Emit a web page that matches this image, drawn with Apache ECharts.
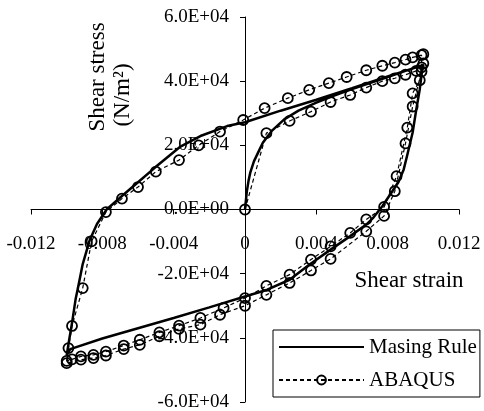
<!DOCTYPE html>
<html>
<head>
    <meta charset="utf-8">
    <title>Shear stress - strain</title>
    <script src="https://cdn.jsdelivr.net/npm/echarts@6/dist/echarts.min.js"></script>
    <style>
        html, body { margin: 0; padding: 0; background: #fff; }
        #chart { width: 484px; height: 411px; }
    </style>
</head>
<body>
<div id="chart"></div>
<script type="text/javascript">
    // 读图得到的数据 [shear strain, shear stress (N/m2)]
    var masingRule = [
        [0, 0], [0.0001, 5500], [0.0002, 9000], [0.0003, 11600], [0.0005, 15000], [0.0008, 18500],
        [0.001, 20800], [0.0015, 24500], [0.0022, 28100], [0.003, 30800], [0.004, 33300], [0.005, 35500],
        [0.006, 37500], [0.007, 39400], [0.008, 41300], [0.009, 43200], [0.01, 45000],
        // 卸载
        [0.0099, 42000], [0.0098, 37500], [0.0096, 31000], [0.0094, 24000], [0.0091, 17000], [0.0089, 12500],
        [0.0086, 8500], [0.0083, 6000], [0.008, 3500], [0.0077, 1000], [0.0072, -2500], [0.0068, -4700],
        [0.0059, -8300], [0.0048, -12500], [0.0036, -17200], [0.0025, -21900], [0.00125, -25000], [0, -27100],
        [-0.002, -30500], [-0.004, -33800], [-0.006, -37000], [-0.008, -40200], [-0.0098, -43500], [-0.01, -45500],
        // 再加载
        [-0.0099, -42000], [-0.0097, -35400], [-0.0095, -28000], [-0.00935, -24000], [-0.0091, -17000],
        [-0.0087, -9400], [-0.0083, -4500], [-0.00776, 0], [-0.0069, 4200], [-0.006, 8500], [-0.005, 13300],
        [-0.00365, 19500], [-0.0025, 22900], [-0.001, 26000], [0, 27200], [0.002, 30800], [0.004, 34200],
        [0.006, 37800], [0.008, 41500], [0.01, 45000]
    ];
    var abaqus = [
        [0, 0], [0.0012, 23800], [0.0025, 27600], [0.0037, 30500], [0.0048, 33500], [0.0059, 35700],
        [0.0068, 38000], [0.0077, 40000], [0.0084, 40900], [0.009, 42000], [0.0096, 43200], [0.0099, 44300],
        [0.01, 45500],
        // 第一次卸载
        [0.0098, 40300], [0.0094, 36200], [0.0091, 25500], [0.0085, 10400], [0.0078, 800], [0.0068, -3100],
        [0.0059, -7300], [0.0048, -11500], [0.0037, -15600], [0.0025, -20300], [0.0012, -23800], [0, -27600],
        [-0.0012, -30700], [-0.0025, -33800], [-0.0037, -36200], [-0.0048, -38300], [-0.0059, -40600],
        [-0.0068, -42400], [-0.0078, -44300], [-0.0085, -45300], [-0.0092, -45800], [-0.0097, -46700],
        [-0.01, -47200],
        // 再加载
        [-0.0099, -43200], [-0.0097, -36300], [-0.0091, -24500], [-0.0086, -9900], [-0.0078, -800],
        [-0.0069, 3400], [-0.006, 7000], [-0.005, 11800], [-0.0037, 15400], [-0.0026, 20000], [-0.0014, 24300],
        [-0.0001, 27900], [0.0011, 31600], [0.0024, 34700], [0.0036, 37300], [0.0047, 39400], [0.0057, 41300],
        [0.0068, 43400], [0.0077, 44800], [0.0084, 45800], [0.009, 46700], [0.0094, 47400], [0.0099, 48100],
        [0.01, 48400],
        // 第二次卸载
        [0.0099, 43000], [0.0094, 32100], [0.009, 20600], [0.0084, 5700], [0.0078, -2000], [0.0068, -6800],
        [0.0048, -15400], [0.0037, -19000], [0.0025, -22900], [0.0012, -26600], [0, -30000],
        [-0.0014, -32800], [-0.0025, -35900], [-0.0037, -37200], [-0.0048, -39500], [-0.0059, -42200],
        [-0.0068, -43500], [-0.0078, -45500], [-0.0085, -46300], [-0.0092, -46800], [-0.01, -47900]
    ];
    var strainTicks = [-0.012, 0.012, 0.004];
    var stressTicks = [-60000, 60000, 20000];

    var serif = '"Liberation Serif", "Times New Roman", serif';

    function sciLabel(v) {
        var parts = v.toExponential(1).split('e');
        var e = parts[1];
        return parts[0] + 'E' + e.charAt(0) + e.slice(1).padStart(2, '0');
    }

    // 绘图区大小，坐标轴要移到 0 处
    var W = 484, H = 411;
    var gl = 31, gr = 25, gt = 17, gb = 9;
    var plotW = W - gl - gr, plotH = H - gt - gb;

    var myChart = echarts.init(document.getElementById('chart'));
    myChart.setOption({
        animation: false,
        backgroundColor: '#fff',
        grid: {
            left: gl, right: gr, top: gt, bottom: gb,
            outerBoundsMode: 'none'
        },
        xAxis: {
            type: 'value',
            position: 'bottom',
            offset: -plotH / 2,
            min: strainTicks[0],
            max: strainTicks[1],
            interval: strainTicks[2],
            splitLine: { show: false },
            axisLine: { onZero: false, lineStyle: { color: '#000', width: 1 } },
            axisTick: { show: true, length: 5, inside: false, lineStyle: { color: '#000' } },
            axisLabel: {
                margin: 25,
                color: '#000',
                fontFamily: serif,
                fontSize: 19,
                formatter: function (v) { return String(+v.toFixed(3)); }
            }
        },
        yAxis: {
            type: 'value',
            position: 'left',
            offset: -plotW / 2,
            min: stressTicks[0],
            max: stressTicks[1],
            interval: stressTicks[2],
            splitLine: { show: false },
            axisLine: { onZero: false, lineStyle: { color: '#000', width: 1 } },
            axisTick: { show: true, length: 5, lineStyle: { color: '#000' } },
            axisLabel: {
                margin: 16,
                color: '#000',
                fontFamily: serif,
                fontSize: 19,
                formatter: sciLabel
            }
        },
        legend: {
            orient: 'vertical',
            left: 273,
            top: 330,
            padding: [5, 3, 5, 5],
            itemWidth: 85,
            itemHeight: 11,
            itemGap: 9,
            backgroundColor: '#fff',
            borderColor: '#000',
            borderWidth: 1,
            borderRadius: 0,
            textStyle: { color: '#000', fontFamily: serif, fontSize: 21, lineHeight: 24 },
            data: [
                { name: 'Masing Rule', itemStyle: { opacity: 0 } },
                'ABAQUS'
            ]
        },
        graphic: [
            {
                type: 'text', x: 98, y: 77, rotation: Math.PI / 2,
                style: { text: 'Shear stress', fill: '#000', font: '23px ' + serif, textAlign: 'center', textVerticalAlign: 'middle' }
            },
            {
                type: 'text', x: 123, y: 95, rotation: Math.PI / 2,
                style: { text: '(N/m²)', fill: '#000', font: '23px ' + serif, textAlign: 'center', textVerticalAlign: 'middle' }
            },
            {
                type: 'text', x: 409, y: 281,
                style: { text: 'Shear strain', fill: '#000', font: '23px ' + serif, textAlign: 'center', textVerticalAlign: 'middle' }
            }
        ],
        series: [
            {
                name: 'Masing Rule',
                type: 'line',
                data: masingRule,
                symbol: 'none',
                z: 3,
                lineStyle: { color: '#000', width: 2.5 },
                itemStyle: { color: '#000' }
            },
            {
                name: 'ABAQUS',
                type: 'line',
                data: abaqus,
                symbol: 'circle',
                symbolSize: 10,
                z: 2,
                lineStyle: { color: '#000', width: 1.2, type: [4, 3] },
                itemStyle: { color: 'rgba(0,0,0,0)', borderColor: '#000', borderWidth: 1.8 }
            }
        ]
    });
</script>
</body>
</html>
